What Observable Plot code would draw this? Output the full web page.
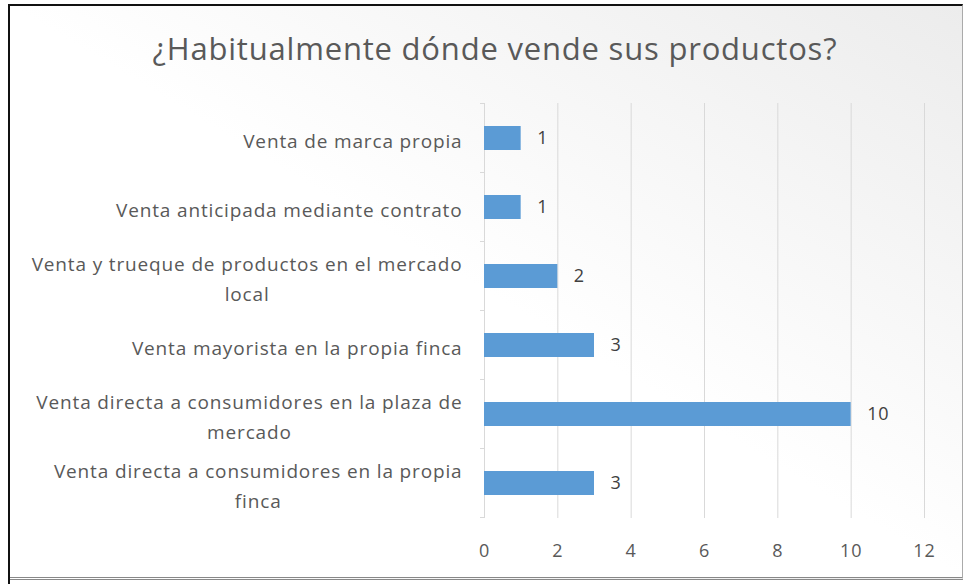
<!DOCTYPE html>
<html><head><meta charset="utf-8">
<script src="https://cdn.jsdelivr.net/npm/d3@7"></script>
<script src="https://cdn.jsdelivr.net/npm/@observablehq/plot@0.6"></script>
<style>
body{margin:0;background:#fff;}
#wrap{position:relative;width:964px;height:584px;overflow:hidden;font-family:"Open Sans", Lato, sans-serif;}
#frame{position:absolute;left:8px;top:4px;width:955px;height:576px;box-sizing:border-box;border-left:2px solid #111;border-top:2px solid #111;border-right:1px solid #aaa;border-bottom:3px double #888;background:linear-gradient(to top right,#ffffff 50%,#ececec 100%);}
#leftline{position:absolute;left:8px;top:4px;width:2px;height:580px;background:#111;}
#title{position:relative;height:100px;line-height:96px;text-align:center;padding-left:26px;font-size:31px;letter-spacing:0.8px;color:#595959;}
#chart{position:relative;height:484px;}
#chart svg text{letter-spacing:0.85px;}
</style></head>
<body><div id="wrap"><div id="frame"></div><div id="leftline"></div><div id="title">¿Habitualmente dónde vende sus productos?</div><div id="chart"></div></div>
<script>
const categories = [
  "Venta de marca propia",
  "Venta anticipada mediante contrato",
  "Venta y trueque de productos en el mercado local",
  "Venta mayorista en la propia finca",
  "Venta directa a consumidores en la plaza de mercado",
  "Venta directa a consumidores en la propia finca"
];
const tickLabels = [
  "Venta de marca propia",
  "Venta anticipada mediante contrato",
  "Venta y trueque de productos en el mercado\nlocal",
  "Venta mayorista en la propia finca",
  "Venta directa a consumidores en la plaza de\nmercado",
  "Venta directa a consumidores en la propia\nfinca"
];
const values = [1, 1, 2, 3, 10, 3];
const xTicks = [0, 2, 4, 6, 8, 10, 12];

const data = categories.map((c, i) => ({category: c, label: tickLabels[i], value: values[i]}));
const labelOf = new Map(data.map(d => [d.category, d.label]));

function boundaryTicks() {
  return Plot.ruleY(categories, {
    y: d => d,
    render: (index, scales) => {
      const y = scales.y, x = scales.x;
      const step = y(categories[1]) - y(categories[0]);
      const bw = typeof y.bandwidth === "function" ? y.bandwidth() : (scales.scales && scales.scales.y ? scales.scales.y.bandwidth : 0);
      const off = (step - bw) / 2;
      const ys = categories.map(c => y(c) - off);
      ys.push(y(categories[categories.length - 1]) + bw + off);
      const g = d3.create("svg:g");
      const x0 = x(0);
      g.selectAll("line").data(ys).join("line")
        .attr("x1", x0 - 4).attr("x2", x0)
        .attr("y1", d => d).attr("y2", d => d)
        .attr("stroke", "#d9d9d9");
      return g.node();
    }
  });
}

const plot = Plot.plot({
  width: 964,
  height: 484,
  marginLeft: 484,
  marginRight: 40,
  marginTop: 3,
  marginBottom: 66,
  style: {background: "transparent", fontFamily: "'Open Sans', Lato, sans-serif", fontSize: "19px", color: "#595959"},
  x: {domain: [0, 12], label: null},
  y: {domain: categories, paddingInner: 0.65, paddingOuter: 0.325, align: 0.5, label: null},
  marks: [
    Plot.gridX(xTicks.filter(t => t > 0), {stroke: "#d9d9d9", strokeOpacity: 1}),
    Plot.ruleX([0], {stroke: "#d9d9d9"}),
    boundaryTicks(),
    Plot.barX(data, {x: "value", y: "category", fill: "#5b9bd5"}),
    Plot.text(data, {x: "value", y: "category", text: d => String(d.value), dx: 16, textAnchor: "start", fill: "#404040", fontSize: 18}),
    Plot.axisX({ticks: xTicks, tickSize: 0, tickPadding: 26, fontSize: 18, label: null}),
    Plot.axisY({tickSize: 0, tickPadding: 22, tickFormat: c => labelOf.get(c), lineHeight: 1.55, fontSize: 19, label: null})
  ]
});
document.getElementById("chart").appendChild(plot);

// center wrapped tick label lines under their first line, as in the original
plot.querySelectorAll('g[aria-label="y-axis tick label"] text').forEach(t => {
  const spans = t.querySelectorAll("tspan");
  if (spans.length > 1) {
    let w = 0;
    spans.forEach(s => { w = Math.max(w, s.getComputedTextLength()); });
    t.setAttribute("text-anchor", "middle");
    spans.forEach(s => s.setAttribute("x", -w / 2));
  }
});
</script>
</body></html>
